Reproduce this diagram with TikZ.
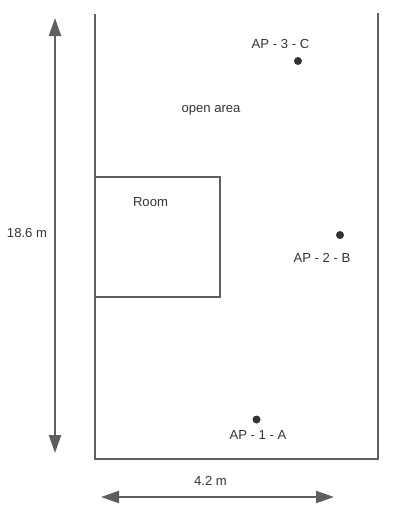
\documentclass[tikz,border=0pt]{standalone}
\usepackage{fontspec}
\setmainfont{Liberation Sans}
\usetikzlibrary{arrows.meta}
\definecolor{wallc}{HTML}{5E5E5E}
\definecolor{dotc}{HTML}{333333}
\definecolor{textc}{HTML}{333333}
\tikzset{
  wall/.style={draw=wallc,line width=2pt,line cap=butt},
  dim/.style={draw=wallc,line width=2.4pt,{Triangle[length=18pt,width=12pt,fill=wallc]}-{Triangle[length=18pt,width=12pt,fill=wallc]},shorten <=0pt,shorten >=0pt},
  lbl/.style={inner sep=0pt,text=textc,font=\fontsize{13.1}{15}\selectfont},
  apdot/.style={circle,fill=dotc,draw=none,minimum size=8pt,inner sep=0pt}
}
\begin{document}
\begin{tikzpicture}[x=1pt,y=-1pt]
\useasboundingbox (0,0) rectangle (415,517);
% free ends
\coordinate (wallTL) at (94.7,14);
\coordinate (wallML) at (94.7,347);
\coordinate (wallML2) at (95.1,347);
\coordinate (wallBL) at (95.1,459);
\coordinate (wallBR) at (378,459);
\coordinate (wallTR) at (378,13);
\coordinate (vTop) at (55,18);
\coordinate (vBot) at (55,453);
\coordinate (hL) at (101,497);
\coordinate (hR) at (334,497);
\coordinate (rTL) at (95,177);
\coordinate (rTR) at (220,177);
\coordinate (rBR) at (220,297);
\coordinate (rBL) at (95,297);
% walls
\draw[wall] (wallTL) -- (wallML);
\draw[wall] (wallML2) -- (wallBL) -- (wallBR) -- (wallTR);
% room
\draw[wall,line join=miter] (rTL) -- (rTR) -- (rBR) -- (rBL);
% dimensions
\draw[dim] (vTop) -- (vBot);
\draw[dim] (hL) -- (hR);
% access points
\node[apdot] (ap3) at (298,61) {};
\node[apdot] (ap2) at (340,235) {};
\node[apdot] (ap1) at (256.5,419.5) {};
% labels
\node[lbl] (l3) at (280.5,44) {AP - 3 - C};
\node[lbl] (l2) at (322,258) {AP - 2 - B};
\node[lbl] (l1) at (258,434.5) {AP - 1 - A};
\node[lbl] (open) at (211,110) {open area};
\node[lbl] (room) at (150.5,202) {Room};
\node[lbl] (h) at (27,233) {18.6 m};
\node[lbl] (w) at (210.5,481) {4.2 m};
\end{tikzpicture}
\end{document}
